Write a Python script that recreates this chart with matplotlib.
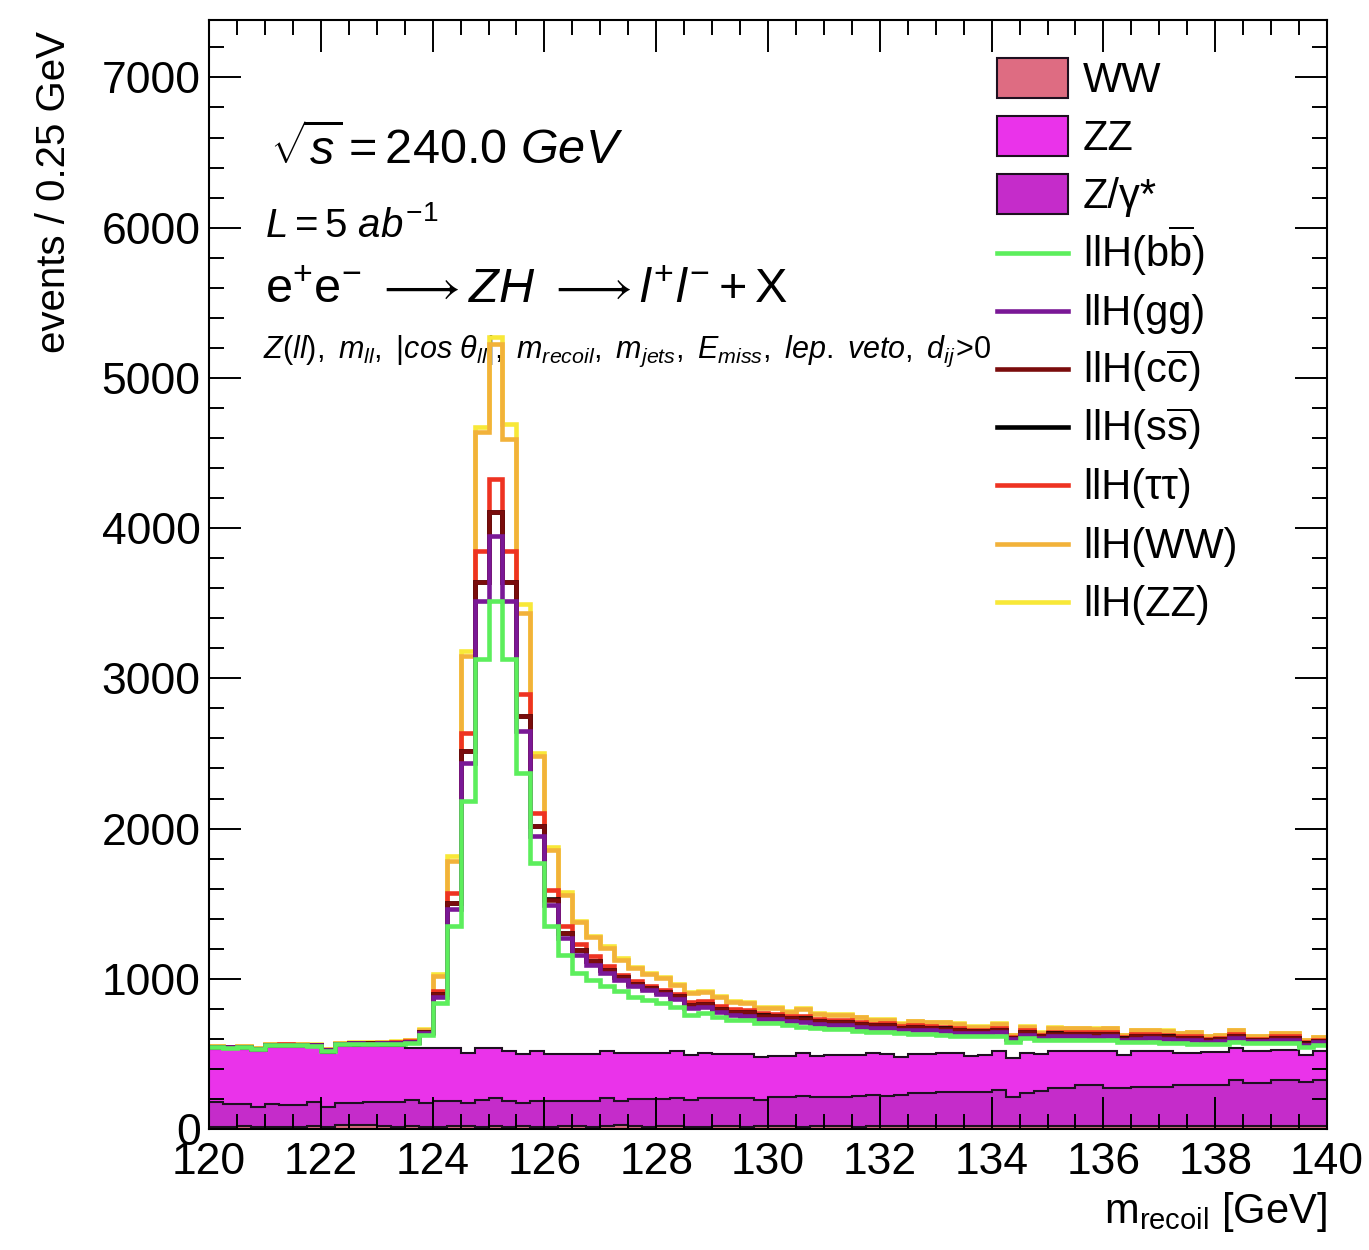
import numpy as np
import matplotlib
matplotlib.use('Agg')
import matplotlib.pyplot as plt
from matplotlib.patches import Rectangle
from matplotlib.ticker import MultipleLocator

plt.rcParams['font.family'] = ['Liberation Sans', 'DejaVu Sans']
plt.rcParams['mathtext.fontset'] = 'custom'
plt.rcParams['mathtext.rm'] = 'Liberation Sans'
plt.rcParams['mathtext.it'] = 'Liberation Sans:italic'
plt.rcParams['mathtext.bf'] = 'Liberation Sans:bold'
plt.rcParams['mathtext.sf'] = 'Liberation Sans'

# 80 bins of 0.25 GeV between 120 and 140 GeV
edges = np.arange(120.0, 140.0 + 0.125, 0.25)

# backgrounds, events / bin (stacked bottom -> top: WW, Z/gamma*, ZZ)
bkg_ww = [16, 15, 17, 16, 14, 16, 15, 17, 16, 25, 26, 24, 18, 16, 17, 15, 16, 18, 17, 16,
          17, 16, 18, 15, 16, 17, 19, 16, 22, 24, 17, 16, 18, 17, 16, 15, 17, 18, 16, 17,
          18, 17, 16, 19, 18, 17, 16, 18, 17, 19, 18, 17, 20, 19, 18, 17, 19, 18, 20, 19,
          18, 20, 19, 21, 20, 19, 18, 20, 21, 19, 20, 22, 21, 20, 19, 21, 20, 22, 21, 20]
bkg_zgam = [166, 152, 150, 133, 153, 144, 145, 165, 128, 146, 145, 158, 164, 166, 176, 161, 173, 171, 154, 177,
            187, 173, 158, 172, 173, 172, 170, 173, 187, 165, 181, 182, 180, 187, 177, 189, 187, 186, 188, 176,
            192, 195, 202, 191, 194, 197, 204, 207, 205, 207, 220, 221, 229, 230, 231, 232, 241, 198, 218, 231,
            253, 251, 274, 272, 251, 252, 264, 262, 261, 274, 273, 271, 272, 307, 285, 283, 307, 305, 295, 307]
bkg_zz = [349, 364, 364, 371, 377, 384, 384, 362, 365, 382, 382, 371, 371, 371, 345, 362, 349, 349, 338, 345,
          334, 333, 324, 329, 311, 311, 311, 311, 307, 315, 306, 306, 306, 312, 300, 305, 296, 296, 296, 289,
          277, 275, 286, 277, 278, 279, 275, 279, 278, 254, 262, 262, 255, 255, 238, 244, 256, 255, 266, 248,
          249, 249, 227, 227, 249, 222, 234, 234, 234, 211, 211, 217, 217, 211, 212, 212, 200, 200, 177, 189]

# llH signal split by Higgs decay, events / bin
sig_bb = [12, 10, 13, 11, 12, 14, 12, 11, 13, 12, 14, 13, 15, 16, 37, 89, 300, 811, 1673, 2589,
          2978, 2605, 1871, 1255, 849, 660, 538, 493, 433, 412, 378, 356, 334, 299, 267, 262, 244, 227, 227, 222,
          217, 208, 178, 183, 174, 171, 160, 145, 149, 160, 133, 133, 121, 112, 129, 123, 100, 111, 100, 95,
          75, 72, 74, 70, 73, 83, 60, 62, 58, 67, 63, 57, 57, 42, 55, 55, 44, 44, 51, 44]
sig_gg = [2, 2, 3, 2, 2, 3, 2, 2, 3, 2, 3, 3, 4, 4, 5, 13, 44, 118, 256, 389,
          431, 389, 278, 178, 144, 111, 122, 102, 89, 77, 67, 62, 58, 52, 45, 38, 34, 33, 28, 31,
          26, 25, 30, 28, 28, 27, 25, 24, 25, 20, 26, 25, 26, 26, 21, 20, 27, 14, 24, 15,
          24, 25, 23, 24, 24, 16, 25, 26, 25, 21, 24, 15, 19, 24, 14, 14, 21, 21, 15, 16]
sig_cc = [1, 1, 1, 1, 1, 1, 1, 1, 1, 1, 1, 1, 1, 1, 2, 5, 18, 37, 78, 122,
          160, 122, 100, 67, 34, 36, 30, 25, 22, 18, 16, 15, 15, 16, 20, 22, 22, 21, 21, 20,
          20, 18, 23, 20, 20, 19, 18, 16, 15, 12, 17, 16, 17, 17, 13, 14, 16, 9, 15, 10,
          16, 16, 15, 16, 16, 10, 16, 16, 16, 13, 16, 10, 12, 15, 9, 9, 13, 13, 10, 10]
sig_ss = [0, 0, 0, 0, 0, 0, 0, 0, 0, 0, 0, 0, 0, 0, 0, 0, 1, 1, 2, 2,
          3, 2, 2, 1, 1, 1, 1, 1, 1, 1, 1, 1, 1, 1, 1, 1, 1, 1, 1, 1,
          1, 1, 1, 1, 1, 1, 1, 1, 1, 1, 1, 1, 1, 1, 1, 1, 1, 1, 1, 1,
          1, 1, 1, 1, 1, 1, 1, 1, 1, 1, 1, 1, 1, 1, 1, 1, 1, 1, 1, 1]
sig_tt = [1, 1, 1, 1, 1, 1, 1, 1, 1, 1, 1, 1, 2, 2, 2, 4, 15, 66, 120, 207,
          217, 207, 142, 87, 65, 41, 39, 29, 24, 16, 16, 13, 13, 14, 21, 20, 19, 17, 16, 14,
          14, 11, 19, 16, 15, 15, 14, 12, 13, 10, 13, 12, 13, 13, 10, 11, 13, 7, 12, 8,
          12, 12, 13, 12, 12, 8, 13, 13, 13, 11, 12, 8, 9, 12, 7, 7, 11, 11, 8, 8]
sig_ww = [3, 3, 2, 3, 3, 2, 3, 3, 4, 3, 3, 4, 4, 6, 6, 11, 100, 211, 511, 793,
          900, 746, 545, 378, 267, 211, 145, 125, 120, 100, 89, 78, 77, 62, 58, 60, 58, 45, 45, 38,
          39, 32, 45, 30, 32, 34, 31, 25, 24, 17, 26, 25, 27, 27, 21, 20, 27, 14, 24, 15,
          25, 24, 26, 25, 25, 16, 25, 25, 26, 21, 25, 15, 19, 24, 14, 14, 21, 21, 15, 16]
sig_zz = [1, 1, 0, 1, 1, 0, 1, 1, 1, 0, 1, 1, 1, 1, 2, 5, 14, 34, 33, 33,
          46, 100, 55, 22, 20, 15, 10, 10, 10, 9, 8, 8, 7, 7, 6, 6, 6, 5, 5, 5,
          5, 4, 4, 4, 4, 4, 4, 4, 4, 3, 3, 3, 3, 3, 3, 3, 3, 2, 3, 2,
          3, 3, 3, 3, 3, 2, 3, 3, 3, 3, 3, 2, 2, 3, 2, 2, 3, 3, 2, 2]

bkg_list = [bkg_ww, bkg_zgam, bkg_zz]
bkg_colors = ['#de6c82', '#c52cca', '#ea33ea']
sig_list = [sig_bb, sig_gg, sig_cc, sig_ss, sig_tt, sig_ww, sig_zz]
sig_colors = ['#5cee5c', '#7a1896', '#7a0c0c', '#000000', '#ee3322', '#f2b23a', '#f8e838']
sig_labels = [r'llH(b$\overline{\mathrm{b}}$)', 'llH(gg)', r'llH(c$\overline{\mathrm{c}}$)',
              r'llH(s$\overline{\mathrm{s}}$)', 'llH(ττ)', 'llH(WW)', 'llH(ZZ)']

fig = plt.figure(figsize=(13.69, 12.5), dpi=100)
ax = fig.add_axes([209 / 1369, 121 / 1250, 1118 / 1369, 1109 / 1250])

# stacked backgrounds
base = np.zeros(len(edges) - 1)
for vals, col in zip(bkg_list, bkg_colors):
    top = base + np.array(vals, dtype=float)
    ax.stairs(top, edges, baseline=base, fill=True, color=col, lw=0, zorder=1)
    ax.stairs(top, edges, baseline=None, color='#1e1020', lw=1.5, zorder=1.2)
    base = top

# signal drawn as cumulative lines on top of the background
cum = base.copy()
cums = []
for vals in sig_list:
    cum = cum + np.array(vals, dtype=float)
    cums.append(cum)
for c, col in reversed(list(zip(cums, sig_colors))):
    ax.stairs(c, edges, baseline=None, color=col, lw=3.3, zorder=2)

ax.set_xlim(120, 140)
ax.set_ylim(0, 1.4 * cums[-1].max())
ax.xaxis.set_major_locator(MultipleLocator(2))
ax.xaxis.set_minor_locator(MultipleLocator(0.5))
ax.yaxis.set_major_locator(MultipleLocator(1000))
ax.yaxis.set_minor_locator(MultipleLocator(200))
ax.tick_params(which='both', direction='in', top=True, right=True, width=1.4, labelsize=32)
ax.tick_params(which='major', length=23)
ax.tick_params(which='minor', length=11)
ax.tick_params(axis='x', pad=9)
ax.tick_params(axis='y', pad=6)
for s in ax.spines.values():
    s.set_linewidth(1.5)

ax.set_xlabel(r'm$_{\mathrm{recoil}}$ [GeV]', fontsize=30, loc='right')
ax.xaxis.set_label_coords(1.0, -0.055)
ax.xaxis.label.set_va('top')
ax.set_ylabel('events / 0.25 GeV', fontsize=29, loc='top')
ax.yaxis.set_label_coords(-0.122, 0.99)

# labels on the plot
ax.text(0.055, 0.869, r'$\mathit{\sqrt{s}=240.0\ GeV}$', fontsize=35,
        transform=ax.transAxes, va='baseline', zorder=1.5)
ax.text(0.050, 0.804, r'$\mathit{L=5\ ab^{-1}}$', fontsize=29,
        transform=ax.transAxes, va='baseline', zorder=1.5)
ax.text(0.050, 0.745,
        r'$\mathrm{e^{+}e^{-}}\ \longrightarrow ZH\ \longrightarrow l^{+}l^{-}+\mathrm{X}$',
        fontsize=35, transform=ax.transAxes, va='baseline', zorder=1.5)
ax.text(0.048, 0.695,
        r'$\mathit{Z(ll),\ m_{ll},\ |cos\ \theta_{ll}|,\ m_{recoil},\ m_{jets},\ E_{miss},\ lep.\ veto,\ d_{ij}\!>\!0}$',
        fontsize=22, transform=ax.transAxes, va='baseline', zorder=1.5)

# legend, drawn by hand to follow the ROOT layout
leg_x0, leg_x1, leg_tx = 0.7048, 0.7683, 0.7818
row_h = 58.2 / 1109
y0 = (1129 - 78) / 1109
leg_items = [('WW', bkg_colors[0], 'box'), ('ZZ', bkg_colors[2], 'box'), ('Z/γ*', bkg_colors[1], 'box')]
leg_items += [(lab, col, 'line') for lab, col in zip(sig_labels, sig_colors)]
for i, (lab, col, kind) in enumerate(leg_items):
    yc = y0 - i * row_h
    if kind == 'box':
        ax.add_patch(Rectangle((leg_x0, yc - 20 / 1109), leg_x1 - leg_x0, 40 / 1109,
                               facecolor=col, edgecolor='#1e1020', lw=1.5,
                               transform=ax.transAxes, zorder=4))
    else:
        ax.plot([leg_x0, leg_x1], [yc, yc], color=col, lw=3.3,
                transform=ax.transAxes, zorder=4)
    ax.text(leg_tx, yc - 14 / 1109, lab, fontsize=30, transform=ax.transAxes,
            va='baseline', ha='left', zorder=4)

fig.savefig('out.png', dpi=100)
